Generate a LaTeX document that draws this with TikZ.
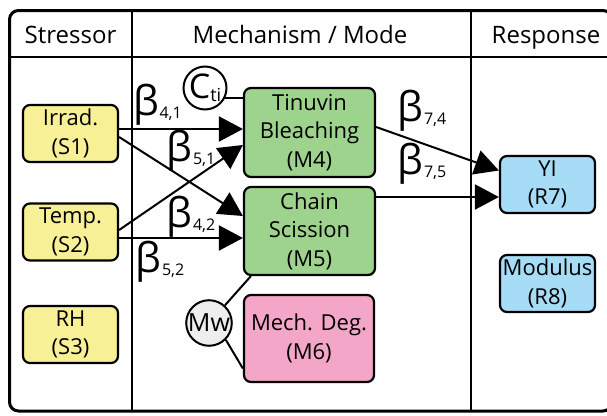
\documentclass[tikz,border=0pt]{standalone}
\usepackage{fontspec}
\setmainfont{Open Sans}
\usetikzlibrary{arrows.meta}
\definecolor{yel}{RGB}{248,240,150}
\definecolor{grn}{RGB}{157,211,140}
\definecolor{pnk}{RGB}{244,166,200}
\definecolor{blu}{RGB}{167,220,246}
\definecolor{mwg}{RGB}{238,238,238}
\begin{document}
\begin{tikzpicture}[x=1pt,y=-1pt,
  box/.style={draw=black,line width=2.2pt,rounded corners=7pt,align=center,inner sep=0pt,
    font=\fontsize{22}{28.5}\selectfont},
  sbox/.style={box,fill=yel,minimum width=95pt,minimum height=57pt},
  mbox/.style={box,minimum width=131pt,minimum height=88pt},
  rbox/.style={box,fill=blu,minimum width=95pt,minimum height=57pt},
  circ/.style={draw=black,line width=2pt,circle,inner sep=0pt,minimum size=43pt},
  head/.style={font=\fontsize{24}{28}\selectfont,anchor=base},
  arr/.style={line width=2pt,-{Triangle[length=24pt,width=25pt]}},
  conn/.style={line width=2pt},
  lab/.style={inner sep=0pt}
]
\useasboundingbox (0,0) rectangle (607,415);
% frame
\draw[line width=3pt,rounded corners=9pt] (9.5,10.5) rectangle (612,411);
\draw[line width=2pt] (9.5,57) -- (607,57);
\draw[line width=2pt] (132,10.5) -- (132,411);
\draw[line width=2pt] (471,10.5) -- (471,411);
\node[head] (h1) at (70.5,43) {Stressor};
\node[head] (h2) at (300,43) {Mechanism / Mode};
\node[head] (h3) at (546,43) {Response};
% stressors
\node[sbox] (S1) at (70.5,133.5) {Irrad.\\(S1)};
\node[sbox] (S2) at (70.5,232) {Temp.\\(S2)};
\node[sbox] (S3) at (70.5,334.5) {RH\\(S3)};
% mechanisms
\node[mbox,fill=grn,minimum height=89pt] (M4) at (309.5,132.5) {Tinuvin\\Bleaching\\(M4)};
\node[mbox,fill=grn] (M5) at (309.5,231) {Chain\\Scission\\(M5)};
\node[mbox,fill=pnk,minimum width=130pt,minimum height=87pt] (M6) at (309,338.5) {Mech. Deg.\\(M6)};
% responses
\node[rbox] (R7) at (547.5,184.5) {YI\\(R7)};
\node[rbox] (R8) at (547.5,283.5) {Modulus\\(R8)};
% covariates
\node[circ,fill=white] (C) at (205,88) {\fontsize{34}{34}\selectfont C\raisebox{-3pt}{\fontsize{18}{18}\selectfont ti}};
\node[circ,fill=mwg,minimum size=45pt] (Mw) at (209,323) {\fontsize{25}{25}\selectfont Mw};
\draw[conn] (C.-25) -- (C.-25 -| M4.west);
\draw[conn] (Mw.48) -- ([xshift=8pt]M5.south west);
\draw[conn] (Mw.-45) -- ([yshift=-30pt]M6.west);
% arrows
\draw[arr] ([yshift=4.5pt]S1.east) -- ([yshift=4.5pt]S1.east -| M4.west);
\draw[arr] ([yshift=-3.5pt]S1.east) -- ([yshift=15pt]M5.west);
\draw[arr] ([yshift=2pt]S2.east) -- ([yshift=-12.5pt]M4.west);
\draw[arr] ([yshift=-6pt]S2.east) -- ([yshift=-6pt]S2.east -| M5.west);
\draw[arr] ([yshift=5.5pt]M4.east) -- ([yshift=14pt]R7.west);
\draw[arr] ([yshift=34pt]M5.east) -- ([yshift=34pt]M5.east -| R7.west);
% labels
\newcommand{\bet}[1]{{\fontsize{41}{41}\selectfont β}\hspace{0.5pt}{\fontsize{16}{16}\selectfont\raisebox{-3pt}{#1}}}
\node[lab] (b41) at (157.5,105) {\bet{4,1}};
\node[lab] (b51) at (191,151) {\bet{5,1}};
\node[lab] (b42) at (191,217) {\bet{4,2}};
\node[lab] (b52) at (160,262) {\bet{5,2}};
\node[lab] (b74) at (422,111) {\bet{7,4}};
\node[lab] (b75) at (422,164) {\bet{7,5}};
\end{tikzpicture}
\end{document}
